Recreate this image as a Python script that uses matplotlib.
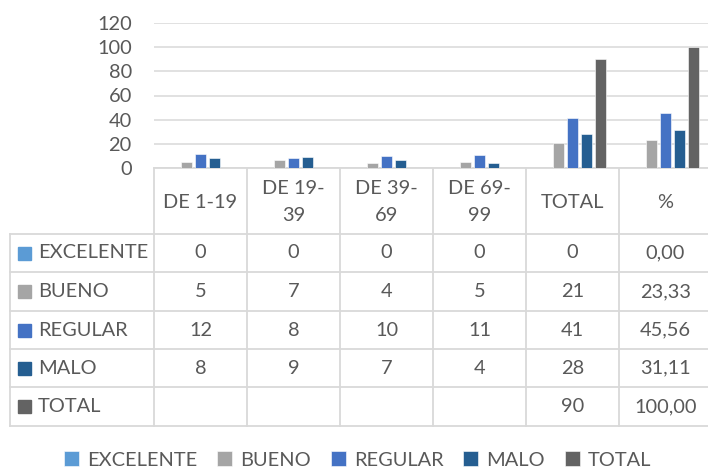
import numpy as np
import matplotlib.pyplot as plt
from matplotlib.patches import Rectangle

# %% DATA
categories = ["DE 1-19", "DE 19-\n39", "DE 39-\n69", "DE 69-\n99", "TOTAL", "%"]
series_names = ["EXCELENTE", "BUENO", "REGULAR", "MALO", "TOTAL"]
excelente = [0, 0, 0, 0, 0, 0.00]
bueno = [5, 7, 4, 5, 21, 23.33]
regular = [12, 8, 10, 11, 41, 45.56]
malo = [8, 9, 7, 4, 28, 31.11]
total = [None, None, None, None, 90, 100.00]
yticks = [0, 20, 40, 60, 80, 100, 120]

colors = ["#5B9BD5", "#A5A5A5", "#4472C4", "#255E91", "#636363"]
text_col = "#595959"
grid_col = "#D9D9D9"

plt.rcParams['font.family'] = ['Lato', 'DejaVu Sans']
fs = 14.4

W, H = 708, 470
fig = plt.figure(figsize=(W / 100, H / 100), dpi=100)

# layout in pixels
col_left, col_w = 154, 93
n_cols = len(categories)
right = col_left + col_w * n_cols
base_y, top_y = 168, 23
row_tops = [234, 272, 311, 349, 387, 426]
left_x = 10

# table layer (pixel coords)
tab = fig.add_axes([0, 0, 1, 1])
tab.set_xlim(0, W)
tab.set_ylim(H, 0)
tab.axis('off')

# bar layer
ax = fig.add_axes([col_left / W, 1 - base_y / H, (right - col_left) / W,
                   (base_y - top_y) / H])
ax.set_facecolor('none')

all_series = [excelente, bueno, regular, malo, total]
x = np.arange(n_cols)
step, bw = 0.15, 0.125
handles = []
for i, (name, vals) in enumerate(zip(series_names, all_series)):
    v = np.array([np.nan if a is None else a for a in vals], dtype=float)
    b = ax.bar(x + (i - 2) * step, v, bw, color=colors[i], label=name,
               edgecolor='white', linewidth=0.4)
    handles.append(b)

ax.set_xlim(-0.5, n_cols - 0.5)
ax.set_ylim(0, 120)
ax.set_yticks(yticks)
ax.set_yticklabels([str(t) for t in yticks], fontsize=fs, color=text_col)
ax.tick_params(axis='y', length=0, pad=16)
ax.set_xticks([])
ax.grid(axis='y', color=grid_col, linewidth=1.1)
ax.set_axisbelow(True)
for s in ax.spines.values():
    s.set_visible(False)

# table grid
lw = 1.3
tab.plot([col_left, right], [base_y, base_y], color=grid_col, lw=lw)
for k in range(n_cols + 1):
    xx = col_left + col_w * k
    tab.plot([xx, xx], [base_y, row_tops[-1]], color=grid_col, lw=lw)
tab.plot([left_x, left_x], [row_tops[0], row_tops[-1]], color=grid_col, lw=lw)
for yy in row_tops:
    tab.plot([left_x, right], [yy, yy], color=grid_col, lw=lw)

# header labels
for k, c in enumerate(categories):
    tab.text(col_left + col_w * (k + 0.5), (base_y + row_tops[0]) / 2 + 1, c,
             ha='center', va='center', fontsize=fs, color=text_col,
             linespacing=1.7)

# rows
for r, (name, vals) in enumerate(zip(series_names, all_series)):
    yc = (row_tops[r] + row_tops[r + 1]) / 2
    tab.add_patch(Rectangle((18, yc - 6.5), 13, 13, color=colors[r]))
    tab.text(38, yc, name, ha='left', va='center', fontsize=fs,
             color=text_col)
    for k, v in enumerate(vals):
        if v is None:
            continue
        if k == n_cols - 1:
            s = f"{v:.2f}".replace('.', ',')
        else:
            s = f"{v:g}"
        tab.text(col_left + col_w * (k + 0.5), yc, s, ha='center',
                 va='center', fontsize=fs, color=text_col)

# legend
fig.legend(handles=handles, labels=series_names, loc='center',
           bbox_to_anchor=(0.505, 1 - 460 / H), ncol=5, frameon=False,
           fontsize=fs, labelcolor=text_col, handlelength=0.75,
           handleheight=0.75, handletextpad=0.4, columnspacing=1.0)

plt.savefig('out.png', dpi=100)
